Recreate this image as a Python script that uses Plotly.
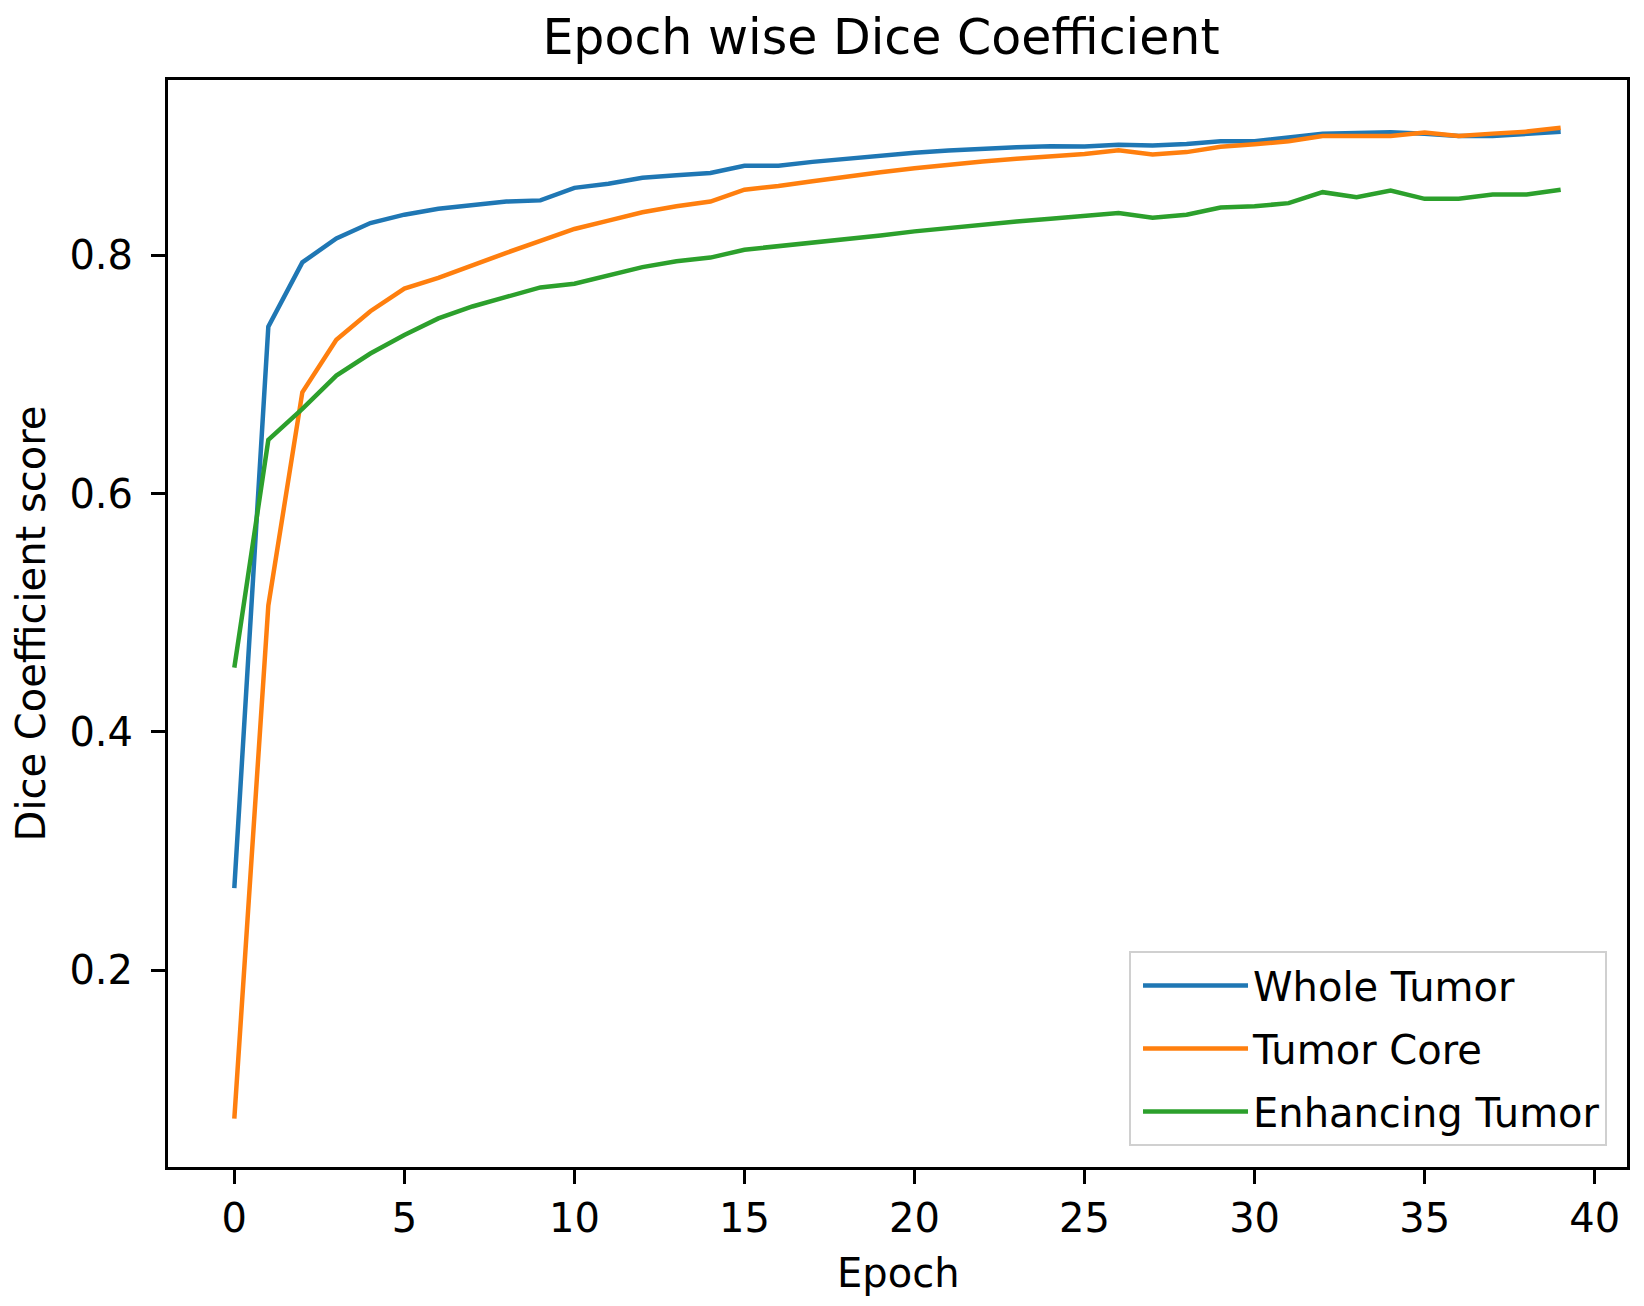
import plotly.graph_objects as go

epochs = list(range(40))

whole_tumor = [0.269, 0.740, 0.794, 0.814, 0.827, 0.834, 0.839, 0.842, 0.845, 0.846,
               0.8565, 0.860, 0.865, 0.867, 0.869, 0.875, 0.875, 0.8783, 0.881, 0.8836,
               0.886, 0.8878, 0.8895, 0.8906, 0.8914, 0.8912, 0.8926, 0.892, 0.8934, 0.8956,
               0.8956, 0.899, 0.9018, 0.9026, 0.9031, 0.9018, 0.9001, 0.9001, 0.9018, 0.9035]

tumor_core = [0.0756, 0.506, 0.685, 0.729, 0.753, 0.772, 0.781, 0.792, 0.802, 0.812,
              0.822, 0.829, 0.836, 0.841, 0.845, 0.855, 0.858, 0.862, 0.866, 0.8696,
              0.873, 0.876, 0.8786, 0.881, 0.883, 0.885, 0.888, 0.8845, 0.8865, 0.891,
              0.893, 0.8956, 0.900, 0.900, 0.900, 0.903, 0.900, 0.902, 0.9037, 0.907]

enhancing_tumor = [0.454, 0.645, 0.671, 0.699, 0.7175, 0.733, 0.747, 0.757, 0.765, 0.773,
                   0.776, 0.783, 0.790, 0.795, 0.798, 0.8046, 0.8074, 0.8101, 0.813, 0.8166,
                   0.820, 0.823, 0.8258, 0.8283, 0.8306, 0.833, 0.8353, 0.8314, 0.834, 0.840,
                   0.841, 0.8437, 0.8529, 0.8487, 0.8543, 0.8473, 0.8473, 0.851, 0.851, 0.855]

series_names = ["Whole Tumor", "Tumor Core", "Enhancing Tumor"]
series_colors = ["#1f77b4", "#ff7f0e", "#2ca02c"]
x_ticks = [0, 5, 10, 15, 20, 25, 30, 35, 40]
y_ticks = [0.2, 0.4, 0.6, 0.8]
x_title = "Epoch"
y_title = "Dice Coefficient score"
chart_title = "Epoch wise Dice Coefficient"

FONT = "DejaVu Sans, Liberation Sans, sans-serif"

fig = go.Figure()
for name, vals, col in zip(series_names, [whole_tumor, tumor_core, enhancing_tumor], series_colors):
    fig.add_trace(go.Scatter(x=epochs, y=vals, mode="lines", name=name,
                             legendgroup=name,
                             line=dict(color=col, width=4.5)))

W, H = 1644, 1306
# page body adds an 8px offset; margins compensate so the plot area lands at 168..1627 x 80..1167
L, R, T, B = 160, 25, 72, 147

fig.update_layout(
    width=W, height=H,
    margin=dict(l=L, r=R, t=T, b=B, pad=0, autoexpand=False),
    paper_bgcolor="white", plot_bgcolor="white",
    font=dict(family=FONT, size=40, color="black"),
    title=dict(text=chart_title, x=873 / W, xanchor="center",
               xref="container", y=1 - 29 / H, yref="container", yanchor="middle",
               font=dict(family=FONT, size=49, color="black")),
    showlegend=True,
    legend=dict(x=0.9863, y=0.0193, xanchor="right", yanchor="bottom",
                bgcolor="rgba(255,255,255,0.8)", bordercolor="#d0d0d0", borderwidth=2,
                font=dict(family=FONT, size=40, color="black"),
                itemwidth=105, tracegroupgap=8, traceorder="grouped", indentation=7),
    annotations=[dict(text=x_title, xref="paper", yref="paper", x=0.5, y=-0.0975,
                      xanchor="center", yanchor="middle", showarrow=False,
                      font=dict(family=FONT, size=40, color="black"))],
)

fig.update_xaxes(range=[-1.95, 40.95], tickmode="array", tickvals=x_ticks,
                 ticktext=[str(v) for v in x_ticks], automargin=False,
                 showgrid=False, zeroline=False, showline=True, linecolor="black",
                 linewidth=3, mirror=True, ticks="outside", ticklen=14, tickwidth=3,
                 tickcolor="black", tickfont=dict(family=FONT, size=40, color="black"))
fig.update_yaxes(range=[0.035, 0.947], tickmode="array", tickvals=y_ticks,
                 ticktext=["%.1f" % v for v in y_ticks], automargin=False,
                 showgrid=False, zeroline=False, showline=True, linecolor="black",
                 linewidth=3, mirror=True, ticks="outside", ticklen=14, tickwidth=3,
                 tickcolor="black", tickfont=dict(family=FONT, size=40, color="black"),
                 ticklabelstandoff=10,
                 title=dict(text=y_title,
                            font=dict(family=FONT, size=40, color="black"), standoff=20))

fig.write_html("out.html")
